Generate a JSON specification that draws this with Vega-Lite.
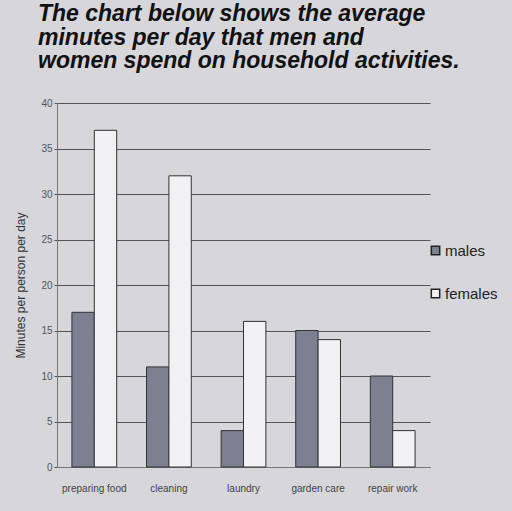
{
  "$schema": "https://vega.github.io/schema/vega-lite/v6.json",
  "width": 373,
  "height": 364,
  "autosize": {"type": "none"},
  "padding": {"left": 57, "top": 103, "right": 82, "bottom": 44},
  "background": "#d6d6db",
  "title": {
    "text": ["The chart below shows the average", "minutes per day that men and", "women spend on household activities."],
    "anchor": "start",
    "frame": "group",
    "dx": -19,
    "offset": 25,
    "font": "Liberation Sans",
    "fontSize": 23,
    "fontWeight": "bold",
    "fontStyle": "italic",
    "lineHeight": 23.5,
    "color": "#111111"
  },
  "data": {
    "values": [
      {"activity": "preparing food", "sex": "males", "minutes": 17},
      {"activity": "preparing food", "sex": "females", "minutes": 37},
      {"activity": "cleaning", "sex": "males", "minutes": 11},
      {"activity": "cleaning", "sex": "females", "minutes": 32},
      {"activity": "laundry", "sex": "males", "minutes": 4},
      {"activity": "laundry", "sex": "females", "minutes": 16},
      {"activity": "garden care", "sex": "males", "minutes": 15},
      {"activity": "garden care", "sex": "females", "minutes": 14},
      {"activity": "repair work", "sex": "males", "minutes": 10},
      {"activity": "repair work", "sex": "females", "minutes": 4}
    ]
  },
  "mark": {"type": "bar", "stroke": "#333333", "strokeWidth": 1},
  "encoding": {
    "x": {
      "field": "activity",
      "type": "nominal",
      "sort": ["preparing food", "cleaning", "laundry", "garden care", "repair work"],
      "scale": {"paddingInner": 0.4, "paddingOuter": 0.2},
      "axis": {
        "title": null,
        "labelAngle": 0,
        "ticks": false,
        "labelPadding": 16,
        "labelFont": "Liberation Sans",
        "labelFontSize": 10,
        "labelColor": "#444444",
        "domainColor": "#777777"
      }
    },
    "xOffset": {"field": "sex", "type": "nominal", "sort": ["males", "females"], "scale": {"paddingInner": 0}},
    "y": {
      "field": "minutes",
      "type": "quantitative",
      "scale": {"domain": [0, 40], "nice": false},
      "axis": {
        "title": "Minutes per person per day",
        "titleFont": "Liberation Sans",
        "titleFontSize": 12,
        "titleFontWeight": "normal",
        "titleColor": "#333333",
        "titlePadding": 13,
        "values": [0, 5, 10, 15, 20, 25, 30, 35, 40],
        "labelFont": "Liberation Sans",
        "labelFontSize": 10,
        "labelColor": "#555555",
        "tickSize": 3,
        "tickColor": "#555555",
        "gridColor": "#555555",
        "gridOpacity": 1,
        "domainColor": "#777777"
      }
    },
    "fill": {
      "field": "sex",
      "type": "nominal",
      "scale": {"domain": ["males", "females"], "range": ["#7c8090", "#f2f2f4"]},
      "legend": {
        "title": null,
        "orient": "none",
        "legendX": 371,
        "legendY": 140,
        "symbolType": "square",
        "symbolSize": 70,
        "symbolStrokeColor": "#222222",
        "symbolStrokeWidth": 1.5,
        "labelFont": "Liberation Sans",
        "labelFontSize": 15,
        "labelColor": "#222222",
        "labelOffset": 2,
        "rowPadding": 27
      }
    }
  },
  "config": {"view": {"stroke": null}}
}
